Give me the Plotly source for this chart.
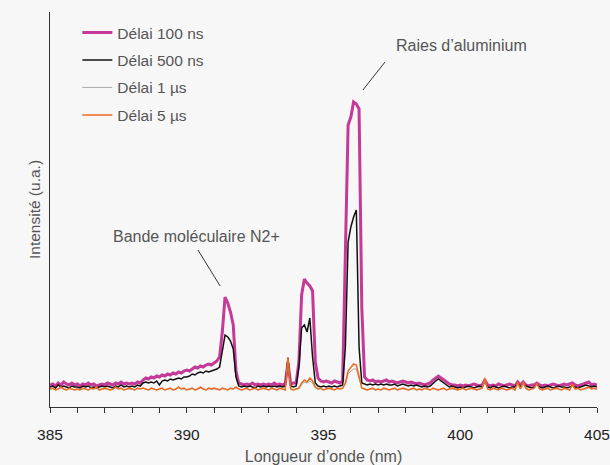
import plotly.graph_objects as go

# Wavelength grid (nm), 0.1 nm steps from 385.0 to 405.0
wavelength = [round(385.0 + 0.1 * i, 1) for i in range(201)]

# Intensity (arbitrary units)
delai_100ns = [
    22, 23, 21, 24, 22, 25, 23, 22, 24, 22,
    23, 21, 23, 22, 24, 22, 23, 21, 22, 23,
    22, 24, 23, 22, 24, 23, 25, 23, 24, 23,
    24, 23, 25, 24, 27, 29, 28, 30, 29, 31,
    30, 32, 31, 33, 32, 34, 33, 35, 34, 36,
    37, 36, 38, 40, 39, 41, 40, 42, 43, 42,
    44, 46, 50, 75, 110, 104, 95, 82, 36, 24,
    23, 22, 23, 22, 24, 22, 23, 22, 23, 22,
    23, 22, 24, 22, 23, 22, 23, 44, 23, 24,
    24, 45, 112, 128, 124, 121, 116, 45, 29, 26,
    25, 26, 25, 24, 26, 25, 24, 26, 150, 282,
    290, 305, 303, 298, 100, 30, 27, 26, 27, 25,
    26, 25, 26, 27, 25, 26, 25, 24, 25, 26,
    25, 24, 25, 24, 23, 24, 23, 22, 23, 24,
    27, 29, 31, 29, 27, 25, 23, 22, 22, 21,
    22, 21, 22, 21, 22, 23, 22, 21, 22, 27,
    22, 21, 22, 21, 23, 22, 21, 22, 23, 22,
    21, 25, 22, 25, 22, 21, 22, 22, 24, 22,
    21, 22, 21, 22, 23, 22, 21, 22, 23, 22,
    23, 24, 22, 21, 22, 23, 24, 25, 22, 23,
    22,
]

delai_500ns = [
    20, 21, 19, 22, 20, 21, 20, 19, 21, 20,
    20, 19, 21, 20, 21, 19, 20, 19, 20, 21,
    20, 21, 20, 19, 21, 20, 22, 20, 21, 20,
    21, 20, 22, 21, 24, 25, 24, 25, 24, 26,
    22, 26, 27, 26, 28, 27, 28, 29, 28, 30,
    30, 31, 33, 32, 34, 35, 34, 36, 35, 36,
    37, 38, 40, 55, 72, 70, 66, 58, 30, 21,
    20, 21, 20, 21, 20, 19, 21, 20, 21, 20,
    21, 20, 21, 20, 21, 20, 21, 49, 21, 20,
    21, 40, 79, 82, 75, 89, 50, 24, 21, 20,
    21, 20, 21, 20, 21, 20, 21, 22, 60, 165,
    180, 190, 197, 60, 24, 23, 22, 23, 22, 23,
    22, 23, 22, 23, 22, 22, 23, 21, 22, 23,
    22, 21, 22, 21, 22, 21, 20, 21, 20, 21,
    24, 26, 28, 26, 24, 22, 20, 21, 20, 19,
    20, 19, 20, 21, 20, 19, 20, 21, 20, 26,
    20, 19, 21, 20, 19, 20, 21, 20, 19, 20,
    20, 24, 20, 23, 21, 20, 19, 20, 23, 20,
    19, 20, 21, 20, 19, 20, 21, 20, 20, 19,
    20, 21, 20, 19, 20, 21, 22, 21, 20, 21,
    20,
]

delai_1us = [
    18, 18, 17, 18, 19, 18, 17, 18, 18, 17,
    18, 17, 18, 18, 17, 18, 18, 19, 17, 18,
    18, 18, 17, 18, 19, 18, 18, 17, 18, 18,
    18, 17, 18, 18, 19, 18, 17, 18, 18, 17,
    18, 18, 17, 18, 18, 17, 18, 19, 18, 18,
    17, 18, 18, 17, 18, 19, 18, 17, 18, 18,
    18, 18, 17, 18, 18, 17, 18, 18, 19, 18,
    17, 18, 18, 17, 18, 18, 17, 18, 18, 18,
    17, 18, 18, 17, 18, 18, 17, 46, 18, 17,
    18, 18, 22, 25, 24, 26, 24, 19, 18, 18,
    17, 18, 18, 18, 17, 18, 18, 18, 23, 33,
    36, 38, 38, 28, 19, 18, 17, 18, 18, 17,
    18, 17, 18, 18, 17, 18, 18, 17, 18, 18,
    18, 17, 18, 18, 17, 18, 17, 18, 18, 17,
    18, 18, 17, 18, 18, 17, 18, 18, 18, 17,
    18, 18, 17, 18, 18, 18, 17, 18, 18, 26,
    18, 17, 18, 18, 17, 18, 18, 17, 18, 18,
    17, 23, 18, 23, 18, 17, 18, 18, 22, 18,
    17, 18, 18, 17, 18, 18, 18, 17, 18, 18,
    17, 21, 18, 18, 17, 18, 18, 19, 18, 18,
    18,
]

delai_5us = [
    18, 19, 17, 18, 20, 18, 17, 19, 18, 17,
    18, 17, 19, 18, 17, 19, 18, 20, 17, 18,
    19, 18, 17, 18, 20, 18, 19, 17, 18, 19,
    18, 17, 19, 18, 19, 18, 17, 19, 18, 17,
    18, 19, 17, 18, 19, 17, 18, 20, 18, 19,
    17, 18, 19, 17, 18, 20, 18, 17, 19, 18,
    19, 18, 17, 19, 18, 17, 19, 18, 20, 18,
    17, 18, 19, 17, 18, 19, 17, 18, 19, 18,
    17, 19, 18, 17, 19, 18, 17, 50, 18, 17,
    18, 19, 24, 27, 25, 29, 26, 20, 18, 19,
    17, 18, 19, 18, 17, 19, 18, 19, 24, 36,
    40, 43, 42, 30, 19, 18, 17, 18, 19, 17,
    18, 17, 19, 18, 17, 18, 19, 17, 18, 19,
    18, 17, 18, 19, 17, 18, 17, 19, 18, 17,
    19, 18, 17, 18, 19, 17, 18, 19, 18, 17,
    18, 19, 17, 18, 19, 18, 17, 18, 19, 29,
    18, 17, 19, 18, 17, 19, 18, 17, 18, 19,
    17, 25, 18, 25, 19, 17, 18, 19, 24, 18,
    17, 18, 19, 17, 18, 19, 18, 17, 19, 18,
    17, 23, 18, 19, 17, 18, 19, 20, 18, 19,
    18,
]

series_names = ["Délai 100 ns", "Délai 500 ns", "Délai 1 µs", "Délai 5 µs"]
series_values = [delai_100ns, delai_500ns, delai_1us, delai_5us]
series_colors = ["#c53a98", "#111111", "#aaaaaa", "#ee6a1f"]
series_widths = [3, 1.5, 1, 1.5]

x_tick_vals = [385, 390, 395, 400, 405]

FONT = "Liberation Sans, Arial, sans-serif"
BG = "#f7f7f7"

fig = go.Figure()
for i, (name, vals, col, w) in enumerate(zip(series_names, series_values, series_colors, series_widths)):
    fig.add_trace(go.Scatter(
        x=wavelength, y=vals, mode="lines", name=name,
        line=dict(color=col, width=w), legendgroup=str(i),
    ))

fig.update_layout(
    width=610, height=465,
    margin=dict(l=50, r=13, t=12, b=58, autoexpand=False),
    paper_bgcolor=BG, plot_bgcolor=BG,
    font=dict(family=FONT, size=15.5, color="#555555"),
    showlegend=True,
    legend=dict(
        x=0.05, y=0.99, xanchor="left", yanchor="top",
        bgcolor="rgba(0,0,0,0)", font=dict(size=15.5, color="#555555"),
        tracegroupgap=4.3, itemwidth=30,
    ),
    xaxis=dict(
        range=[385, 405], showline=True, linecolor="#333333", linewidth=1,
        showgrid=False, zeroline=False, automargin=False,
        tickmode="array", tickvals=x_tick_vals, ticktext=[str(v) for v in x_tick_vals],
        ticks="outside", ticklen=5, tickcolor="#333333",
        ticklabelstandoff=8,
        tickfont=dict(size=15.5, color="#222222"),
        minor=dict(dtick=1, ticks="outside", ticklen=5, tickcolor="#333333", showgrid=False),
        title=dict(text="Longueur d’onde (nm)", font=dict(size=16, color="#555555"), standoff=12),
    ),
    yaxis=dict(
        range=[0, 395], showline=True, linecolor="#333333", linewidth=1,
        showgrid=False, zeroline=False, showticklabels=False, ticks="", automargin=False,
        title=dict(text="Intensité (u.a.)", font=dict(size=15.5, color="#555555"), standoff=4),
    ),
)

# Annotation texts and leader lines
fig.add_annotation(x=390.34, y=171, text="Bande moléculaire N2+", showarrow=False,
                   font=dict(size=16, color="#555555"), xref="x", yref="y")
fig.add_annotation(x=400.06, y=362, text="Raies d’aluminium", showarrow=False,
                   font=dict(size=16, color="#555555"), xref="x", yref="y")
fig.add_shape(type="line", x0=390.41, y0=157, x1=391.22, y1=121, xref="x", yref="y",
              line=dict(color="#333333", width=1))
fig.add_shape(type="line", x0=397.25, y0=345, x1=396.44, y1=317, xref="x", yref="y",
              line=dict(color="#333333", width=1))

fig.write_html("out.html")
